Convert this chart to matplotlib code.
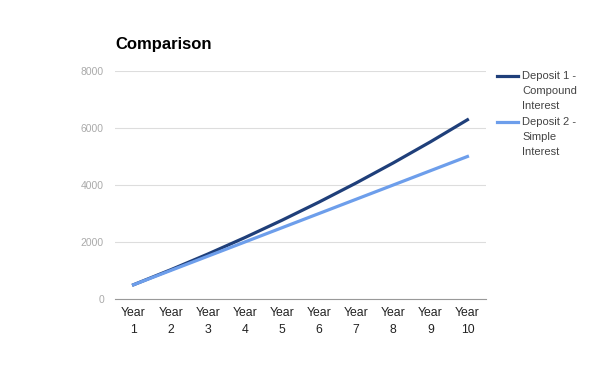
import numpy as np
import matplotlib.pyplot as plt
from matplotlib.lines import Line2D

plt.rcParams['font.family'] = ['Liberation Sans', 'DejaVu Sans']

years = ['Year\n1', 'Year\n2', 'Year\n3', 'Year\n4', 'Year\n5',
         'Year\n6', 'Year\n7', 'Year\n8', 'Year\n9', 'Year\n10']
compound = [500, 1025, 1576, 2155, 2763, 3401, 4071, 4775, 5513, 6289]
simple = [500, 1000, 1500, 2000, 2500, 3000, 3500, 4000, 4500, 5000]
yticks = [0, 2000, 4000, 6000, 8000]
names = ['Deposit 1 -\nCompound\nInterest', 'Deposit 2 -\nSimple\nInterest']
colors = ['#1f3f7a', '#6d9eeb']

fig = plt.figure(figsize=(6.01, 3.71), dpi=100)
ax = fig.add_axes([115/601, 72/371, 371/601, 228/371])

x = np.arange(len(years))
ax.plot(x, compound, color=colors[0], lw=2.3)
ax.plot(x, simple, color=colors[1], lw=2.3)

ax.set_xlim(-0.5, 9.5)
ax.set_ylim(0, 8000)
ax.set_yticks(yticks)
ax.set_yticklabels([str(v) for v in yticks], color='#aaaaaa', fontsize=7.5)
ax.set_xticks(x)
ax.set_xticklabels(years, fontsize=8.8, color='#222222', linespacing=1.55)
ax.tick_params(length=0)
ax.tick_params(axis='y', pad=8)
ax.tick_params(axis='x', pad=6)
ax.grid(axis='y', color='#dddddd', lw=0.8)
ax.set_axisbelow(True)
for s in ['top', 'right', 'left']:
    ax.spines[s].set_visible(False)
ax.spines['bottom'].set_color('#999999')

fig.text(115/601, 1 - 44/371, 'Comparison', fontsize=12, fontweight='bold', va='center')

# legend drawn by hand, handle lines up with the first text line
for i, (nm, c) in enumerate(zip(names, colors)):
    ytop = 1 - (71 + i*46)/371
    fig.add_artist(Line2D([497/601, 518/601], [ytop - 5/371]*2, color=c, lw=2.3))
    fig.text(522/601, ytop, nm, fontsize=8, color='#444444', va='top', linespacing=1.6)

fig.savefig('out.png', dpi=100)
